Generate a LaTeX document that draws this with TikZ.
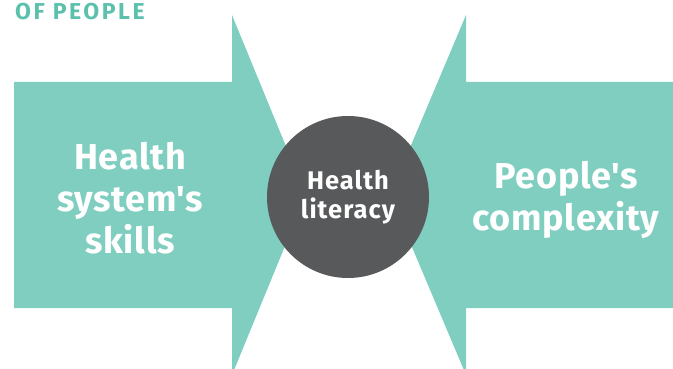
\documentclass[tikz,border=0pt]{standalone}
\usepackage{fontspec}
\setmainfont{Fira Sans}
\definecolor{mint}{HTML}{80CEC0}
\definecolor{mintdark}{HTML}{5BC0AC}
\definecolor{slate}{HTML}{58595B}
\newcommand{\apos}{\textquotesingle}

\begin{document}
\begin{tikzpicture}[x=1pt,y=-1pt,
  label/.style={text=white,align=center,font=\bfseries\fontsize{36}{42}\selectfont\addfontfeature{LetterSpace=2}},
  hub/.style={circle,fill=slate,minimum size=162pt,inner sep=0pt,text=white,align=center,font=\bfseries\fontsize{25.5}{29}\selectfont\addfontfeature{LetterSpace=4}}]
\useasboundingbox (0,0) rectangle (673,369);
% the two arrows pushing towards the middle
\fill[mint] (14,82) -- (232,82) -- (232,15) -- (306,195) -- (232,375) -- (232,308) -- (14,308) -- cycle;
\fill[mint] (680,82) -- (466,82) -- (466,15) -- (390,195) -- (466,375) -- (466,308) -- (680,308) -- cycle;
\node[anchor=base west,text=mintdark,font=\bfseries\fontsize{23}{24}\selectfont\addfontfeature{LetterSpace=11},inner sep=0pt] (head) at (15,20) {OF PEOPLE};
\node[label] (sys) at (130,198) {Health\\system\apos s\\skills};
\node[label] (ppl) at (566,200) {People\apos s\\complexity};
\node[hub] (hl) at (348,197) {Health\\literacy};
\end{tikzpicture}
\end{document}
